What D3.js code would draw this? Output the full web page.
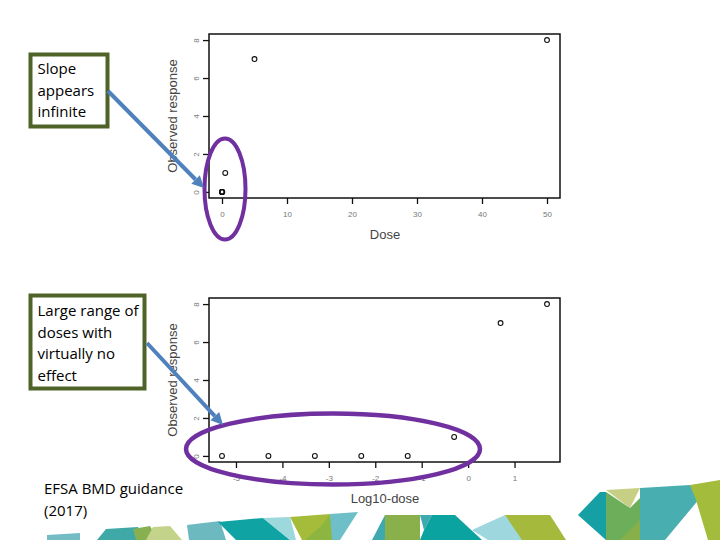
<!DOCTYPE html>
<html><head><meta charset="utf-8">
<script src="https://cdn.jsdelivr.net/npm/d3@7"></script>
<style>body{margin:0;background:#fff}svg{display:block}</style>
</head><body>
<svg id="c" width="720" height="540"></svg>
<script>
const doses = [0.000005, 0.00005, 0.0005, 0.005, 0.05, 0.5, 5, 50];
const responses = [0, 0, 0, 0, 0, 1, 7, 8];
const doseTicks = [0, 10, 20, 30, 40, 50];
const logTicks = [-5, -4, -3, -2, -1, 0, 1];
const respTicks = [0, 2, 4, 6, 8];
const note1 = ["Slope", "appears", "infinite"];
const note2 = ["Large range of", "doses with", "virtually no", "effect"];
const source = ["EFSA BMD guidance", "(2017)"];

const svg = d3.select("#c");
const FONT = "'Liberation Sans', Arial, sans-serif";
const NFONT = "'Open Sans', 'Noto Sans', sans-serif";

// decorative footer shapes
const decor = [
  ["#74bcc4", [[47,535],[80,533],[80,540],[47,540]]],
  ["#3fa9a8", [[97,540],[106,529],[138,527],[146,540]]],
  ["#88b050", [[133,529],[150,526],[158,540],[136,540]]],
  ["#c4d38a", [[146,540],[153,527],[170,526],[182,540]]],
  ["#6db9c0", [[187,525],[220,521],[226,540],[189,540]]],
  ["#0fa3a3", [[218,522],[263,518],[290,540],[236,540]]],
  ["#9dd8dc", [[263,518],[290,517],[296,540],[290,540]]],
  ["#a5bc3b", [[290,517],[330,514],[324,540],[302,540]]],
  ["#8cb640", [[305,540],[322,525],[330,514],[335,540]]],
  ["#6fbfc8", [[330,514],[358,512],[340,540],[332,540]]],
  ["#3fa9b0", [[372,540],[385,515],[386,540]]],
  ["#8ab04c", [[385,515],[420,515],[420,540],[385,540]]],
  ["#3fa9b0", [[420,515],[432,515],[424,530]]],
  ["#0aa3a0", [[424,530],[432,515],[455,515],[482,540],[420,540]]],
  ["#9ed8de", [[472,530],[505,515],[526,540],[488,540]]],
  ["#a5b93c", [[505,515],[550,515],[566,540],[522,540]]],
  ["#17a0a3", [[578,515],[600,492],[606,492],[606,540]]],
  ["#c7cf84", [[606,490],[640,488],[630,508]]],
  ["#6cae5a", [[606,492],[630,508],[640,498],[640,540],[606,540]]],
  ["#88b04a", [[620,540],[640,520],[640,540]]],
  ["#48aeb0", [[640,488],[690,485],[700,498],[665,540],[640,540]]],
  ["#a4bc3c", [[690,485],[720,480],[720,540],[708,540],[696,500]]]
];
svg.append("g").selectAll("polygon").data(decor).join("polygon")
  .attr("points", d => d[1].map(p => p.join(",")).join(" "))
  .attr("fill", d => d[0]);

function panel(xDomain, yTop, xVals, xTicks, xTitle) {
  const x = d3.scaleLinear().domain(xDomain).range([209, 560]);
  const y = d3.scaleLinear().domain([-0.32, 8.32]).range([yTop + 164, yTop]);
  const g = svg.append("g");
  const xa = g.append("g").attr("transform", `translate(0,${yTop + 164})`)
    .call(d3.axisBottom(x).tickValues(xTicks).tickSize(6).tickPadding(7).tickFormat(d3.format("d")));
  const ya = g.append("g").attr("transform", "translate(209,0)")
    .call(d3.axisLeft(y).tickValues(respTicks).tickSize(6).tickPadding(4).tickFormat(d3.format("d")));
  [xa, ya].forEach(a => {
    a.select(".domain").remove();
    a.selectAll(".tick line").attr("stroke", "#111").attr("stroke-width", 1.3);
    a.selectAll("text").attr("font-family", FONT).attr("font-size", 8).attr("fill", "#777");
  });
  xa.selectAll("text").text(d => d < 0 ? "-" + Math.abs(d) : d);
  ya.selectAll(".tick text").attr("text-anchor", "middle").attr("dy", 0)
    .attr("transform", "translate(-13,0) rotate(-90)").attr("x", 0).attr("y", 3);
  g.append("rect").attr("x", 209).attr("y", yTop).attr("width", 351).attr("height", 164)
    .attr("fill", "none").attr("stroke", "#111").attr("stroke-width", 1.5);
  g.selectAll("circle.pt").data(xVals.map((v, i) => [v, responses[i]])).join("circle")
    .attr("class", "pt").attr("cx", d => x(d[0])).attr("cy", d => y(d[1])).attr("r", 2.4)
    .attr("fill", "none").attr("stroke", "#111").attr("stroke-width", 1.1);
  g.append("text").attr("x", 385).attr("y", yTop + 205).attr("text-anchor", "middle")
    .attr("font-family", FONT).attr("font-size", 13).attr("fill", "#444").text(xTitle);
  g.append("text").attr("transform", `translate(177,${yTop + 82}) rotate(-90)`).attr("text-anchor", "middle")
    .attr("font-family", FONT).attr("font-size", 13).attr("fill", "#444").text("Observed response");
}
panel([-2, 52], 34, doses, doseTicks, "Dose");
panel([-5.581, 1.979], 298, doses.map(d => Math.log10(d)), logTicks, "Log10-dose");

// ellipses
svg.append("ellipse").attr("cx", 225).attr("cy", 189).attr("rx", 20.5).attr("ry", 50.5)
  .attr("fill", "none").attr("stroke", "#7030a0").attr("stroke-width", 4);
svg.append("ellipse").attr("cx", 333).attr("cy", 449).attr("rx", 147).attr("ry", 35.5)
  .attr("fill", "none").attr("stroke", "#7030a0").attr("stroke-width", 4.5);

// note boxes
function note(x0, y0, w, h, lines, ty) {
  svg.append("rect").attr("x", x0).attr("y", y0).attr("width", w).attr("height", h)
    .attr("fill", "#fff").attr("stroke", "#4f6228").attr("stroke-width", 4);
  svg.append("g").selectAll("text").data(lines).join("text")
    .attr("x", x0 + 7).attr("y", (d, i) => ty + i * 21.5)
    .attr("font-family", NFONT).attr("font-size", 15).attr("fill", "#000").text(d => d);
}
note(30.5, 54.5, 77, 72, note1, 74);
note(30.5, 295.5, 114, 93, note2, 316);

svg.append("g").selectAll("text").data(source).join("text")
  .attr("x", 44).attr("y", (d, i) => 494 + i * 22)
  .attr("font-family", NFONT).attr("font-size", 15).attr("fill", "#000").text(d => d);

// arrows
function arrow(x1, y1, x2, y2) {
  const a = Math.atan2(y2 - y1, x2 - x1), L = 12, W = 6;
  const bx = x2 - L * Math.cos(a), by = y2 - L * Math.sin(a);
  svg.append("line").attr("x1", x1).attr("y1", y1).attr("x2", bx).attr("y2", by)
    .attr("stroke", "#4f81bd").attr("stroke-width", 4);
  svg.append("polygon").attr("fill", "#4f81bd").attr("points", [
    [x2, y2],
    [bx + W * Math.sin(a), by - W * Math.cos(a)],
    [bx - W * Math.sin(a), by + W * Math.cos(a)]
  ].map(p => p.join(",")).join(" "));
}
arrow(108, 91, 204, 188);
arrow(147, 343, 223, 425);
</script>
</body></html>
